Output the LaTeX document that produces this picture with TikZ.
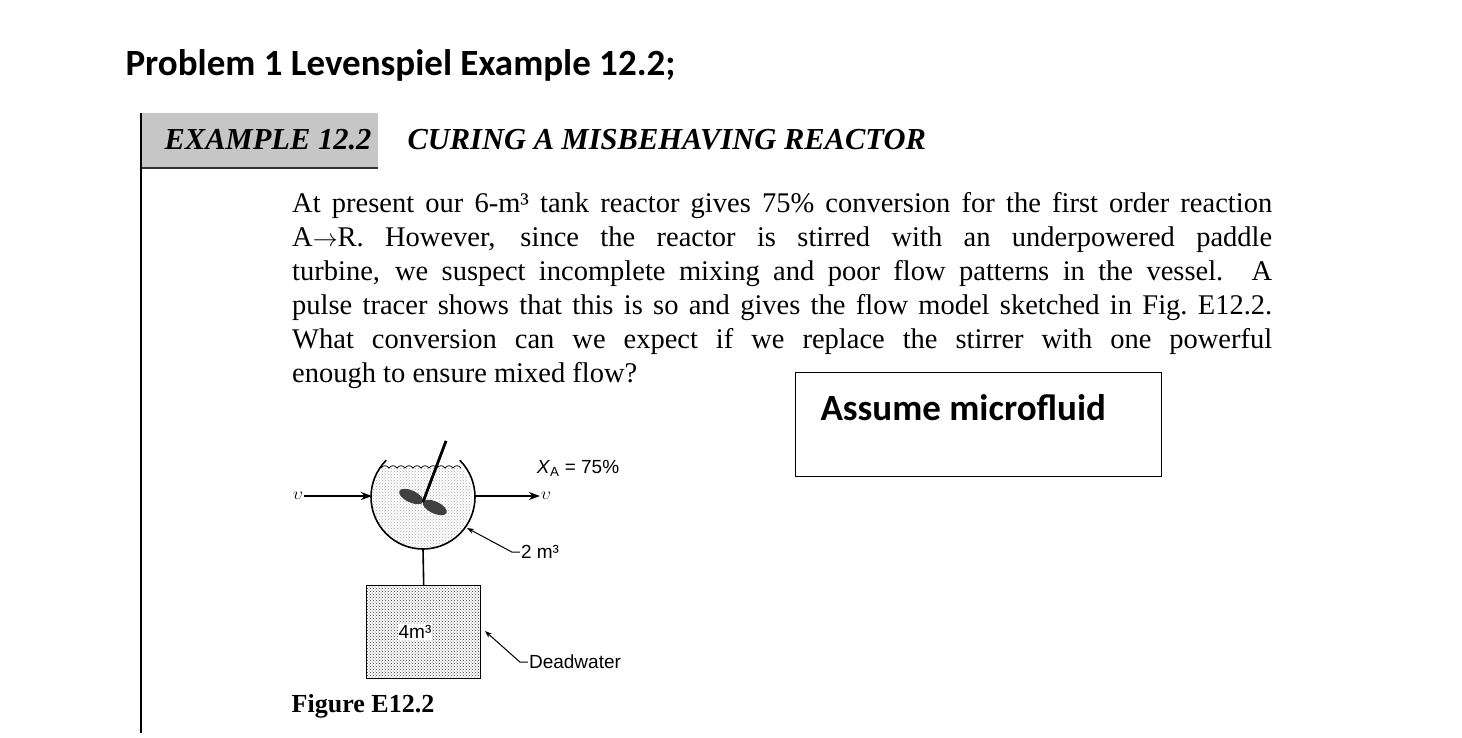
\documentclass[tikz,border=0pt]{standalone}
\usepackage{fontspec}
\setmainfont{Liberation Serif}
\newfontfamily\carl{Carlito}
\newfontfamily\lsans{Liberation Sans}
\usetikzlibrary{patterns,arrows.meta,calc}
\begin{document}
\begin{tikzpicture}[x=1pt,y=-1pt,
  figlbl/.style={font=\lsans\fontsize{19}{22}\selectfont, inner sep=1pt},
  lead/.style={line width=1pt,-{Stealth[length=7pt,width=5pt]}},
  flow/.style={line width=1.8pt,-{Stealth[length=11pt,width=8pt]}}]
\useasboundingbox (0,0) rectangle (1462,737);
\node[anchor=west,font=\carl\bfseries\fontsize{37}{40}\selectfont] (title) at (122,65) {Problem 1 Levenspiel Example 12.2;};
% example header
\fill[gray!45] (141,113) rectangle (378,168);
\draw[line width=2pt,black!80] (141,168) -- (378,168);
\draw[line width=1.2pt] (141,113) -- (141,733);
\node[font=\bfseries\itshape\fontsize{30.5}{33}\selectfont] (ex) at (268,140) {EXAMPLE 12.2};
\node[anchor=west,font=\bfseries\itshape\fontsize{30.5}{33}\selectfont] (cur) at (404,140) {CURING A MISBEHAVING REACTOR};
\node[anchor=north west,inner sep=0pt,text width=980,align=justify,font=\fontsize{28.5}{34}\selectfont] (para) at (292,192)
 {\hyphenpenalty=10000 At present our 6-m³ tank reactor gives 75\% conversion for the first order reaction\linebreak A$\rightarrow$R. However, since the reactor is stirred with an underpowered paddle\linebreak turbine, we suspect incomplete mixing and poor flow patterns in the vessel. A\linebreak pulse tracer shows that this is so and gives the flow model sketched in Fig.\ E12.2.\linebreak What conversion can we expect if we replace the stirrer with one powerful\linebreak enough to ensure mixed flow?};
\node[draw,line width=1pt,minimum width=366,minimum height=104,anchor=north west] (box) at (795,372) {};
\node[anchor=west,font=\carl\bfseries\fontsize{37}{40}\selectfont] (mf) at (817,408) {Assume microfluid};
% figure: tank
\coordinate (c) at (423,497);
\fill[pattern=crosshatch dots,pattern color=gray!70] (384,468) -- (462,468) arc[start angle=-37,end angle=217,radius=50] -- cycle;
\draw[line width=1.6pt] ($(c)+(-45:52)$) arc[start angle=-45,end angle=225,radius=52];
\foreach \i in {0,...,9}{\draw[line width=0.8pt] (381+8*\i,468) .. controls +(2,-3) and +(-2,-3) .. +(8,0);}
\draw[line width=2.5pt] (446,441) -- (423,502);
\fill[black!75,rotate around={-25:(423,502)}] (410,502) ellipse[x radius=13,y radius=6];
\fill[black!75,rotate around={-25:(423,502)}] (436,502) ellipse[x radius=13,y radius=6];
\draw[line width=2.5pt] (446,441) -- (423,502);
\node[figlbl,font=\fontsize{19}{22}\selectfont] (vin) at (298,496) {$\upsilon$};
\coordinate (tin) at (372,496);
\coordinate (tout) at (474,496);
\draw[flow] (vin.east) -- (tin);
\node[figlbl,font=\fontsize{19}{22}\selectfont] (vout) at (546,496) {$\upsilon$};
\draw[flow] (tout) -- (vout.west);
\node[figlbl] (xa) at (578,468) {\textit{X}\textsubscript{A} = 75\%};
\node[figlbl] (two) at (540,552) {2 m³};
\coordinate (tk) at (467,528);
\draw[lead] (two.west) -- ++(-8,0) -- (tk);
% dead water
\coordinate (bot) at (423,549);
\node[draw,line width=1.4pt,minimum width=114,minimum height=93,anchor=north west,pattern=crosshatch dots,pattern color=black!80] (dead) at (366,585) {};
\draw[line width=1.6pt] (bot) -- (dead.north);
\node[figlbl,fill=white] (four) at (415,632) {4m³};
\node[figlbl] (dw) at (575,662) {Deadwater};
\draw[lead] (dw.west) -- ++(-8,0) -- (485,631);
\node[font=\bfseries\fontsize{26}{30}\selectfont] (fig) at (363,706) {Figure E12.2};
\end{tikzpicture}
\end{document}
